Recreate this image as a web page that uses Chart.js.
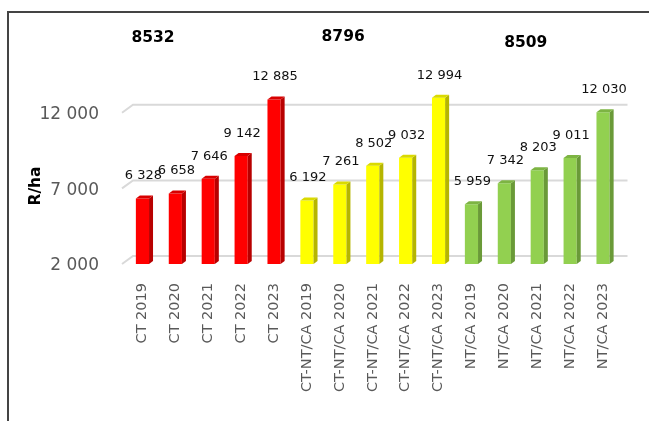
<!DOCTYPE html>
<html><head><meta charset="utf-8">
<script src="https://cdn.jsdelivr.net/npm/chart.js@4.4.1/dist/chart.umd.min.js"></script>
<style>
html,body{margin:0;padding:0;background:#fff;width:649px;height:421px;overflow:hidden}
#wrap{position:relative;width:649px;height:421px}
#frame{position:absolute;left:7px;top:11px;width:700px;height:500px;border-left:2px solid #444;border-top:2px solid #444}
canvas{position:absolute;left:0;top:0}
</style></head><body>
<div id="wrap"><div id="frame"></div><canvas id="c" width="649" height="421"></canvas></div>
<script>
const categories = ['CT 2019','CT 2020','CT 2021','CT 2022','CT 2023',
  'CT-NT/CA 2019','CT-NT/CA 2020','CT-NT/CA 2021','CT-NT/CA 2022','CT-NT/CA 2023',
  'NT/CA 2019','NT/CA 2020','NT/CA 2021','NT/CA 2022','NT/CA 2023'];
const ctValues = [6328, 6658, 7646, 9142, 12885];
const ctNtCaValues = [6192, 7261, 8502, 9032, 12994];
const ntCaValues = [5959, 7342, 8203, 9011, 12030];
const values = [...ctValues, ...ctNtCaValues, ...ntCaValues];
const yTicks = [2000, 7000, 12000];
const groupTotals = ['8532', '8796', '8509'];
const yTitle = 'R/ha';

// styling (not data)
const frontColors = ['#FF0000','#FFFF00','#92D050'];
const sideColors = ['#B80000','#B5B500','#6A9A38'];
const topColors = ['#D80000','#DADA00','#7DB443'];
const groupOf = i => Math.floor(i / 5);
const totalPos = [{ix:0.32, py:37.5},{ix:6.1, py:37},{ix:11.65, py:42.5}];

const fmt = v => String(v).replace(/\B(?=(\d{3})+(?!\d))/g, ' ');
const DX = 4, DY = 3;

const threeD = {
  id: 'threeD',
  beforeDatasetsDraw(chart) {
    const {ctx, chartArea, scales: {y}} = chart;
    ctx.save();
    ctx.strokeStyle = '#D9D9D9';
    ctx.lineWidth = 2;
    yTicks.forEach(v => {
      const py = y.getPixelForValue(v);
      ctx.beginPath();
      ctx.moveTo(chartArea.left - 4, py);
      ctx.lineTo(chartArea.left + 7, py - 8);
      ctx.lineTo(chartArea.right + 8, py - 8);
      ctx.stroke();
    });
    ctx.restore();
  },
  afterDatasetsDraw(chart) {
    const {ctx, chartArea, scales: {x}} = chart;
    const meta = chart.getDatasetMeta(0);
    ctx.save();
    meta.data.forEach((bar, i) => {
      const {x: bx, y: by, width} = bar.getProps(['x','y','width'], true);
      const base = chartArea.bottom;
      const l = bx - width / 2, r = bx + width / 2;
      const g = groupOf(i);
      ctx.fillStyle = sideColors[g];
      ctx.beginPath();
      ctx.moveTo(r, by); ctx.lineTo(r + DX, by - DY); ctx.lineTo(r + DX, base - DY); ctx.lineTo(r, base);
      ctx.closePath(); ctx.fill();
      ctx.fillStyle = topColors[g];
      ctx.beginPath();
      ctx.moveTo(l, by); ctx.lineTo(l + DX, by - DY); ctx.lineTo(r + DX, by - DY); ctx.lineTo(r, by);
      ctx.closePath(); ctx.fill();
    });
    ctx.fillStyle = '#111';
    ctx.font = '13px "DejaVu Sans"';
    ctx.textAlign = 'center';
    ctx.textBaseline = 'middle';
    meta.data.forEach((bar, i) => {
      ctx.fillText(fmt(values[i]), bar.x + 1, bar.y - 22.5);
    });
    ctx.fillStyle = '#000';
    ctx.font = 'bold 15.5px "DejaVu Sans"';
    groupTotals.forEach((t, k) => {
      const p = totalPos[k];
      const px = x.getPixelForValue(0) + p.ix * (x.getPixelForValue(1) - x.getPixelForValue(0));
      ctx.fillText(t, px, p.py);
    });
    ctx.save();
    ctx.translate(36, 186);
    ctx.rotate(-Math.PI / 2);
    ctx.font = 'bold 15.5px "DejaVu Sans"';
    ctx.fillText(yTitle, 0, 0);
    ctx.restore();
    ctx.restore();
  }
};

new Chart(document.getElementById('c'), {
  type: 'bar',
  data: {
    labels: categories,
    datasets: [{
      data: values,
      base: 2000,
      backgroundColor: values.map((_, i) => frontColors[groupOf(i)]),
      borderWidth: 0,
      barPercentage: 0.4,
      categoryPercentage: 1
    }]
  },
  options: {
    responsive: false,
    animation: false,
    devicePixelRatio: 1,
    layout: {padding: {left: 0, right: 29.5, top: 24, bottom: 0}},
    plugins: {legend: {display: false}, tooltip: {enabled: false}},
    scales: {
      x: {
        grid: {display: false, drawTicks: false},
        border: {display: false},
        ticks: {minRotation: 90, maxRotation: 90, autoSkip: false, padding: 19,
          color: '#595959', font: {family: 'DejaVu Sans', size: 14.5}},
        afterFit(s) { s.height = 157; }
      },
      y: {
        min: 2000, max: 17000,
        grid: {display: false, drawTicks: false},
        border: {display: false},
        afterBuildTicks(s) { s.ticks = yTicks.map(v => ({value: v})); },
        ticks: {padding: 27, labelOffset: 2, color: '#595959',
          font: {family: 'DejaVu Sans', size: 17}, callback: v => fmt(v)},
        afterFit(s) { s.width = 126; }
      }
    }
  },
  plugins: [threeD]
});
</script>
</body></html>
